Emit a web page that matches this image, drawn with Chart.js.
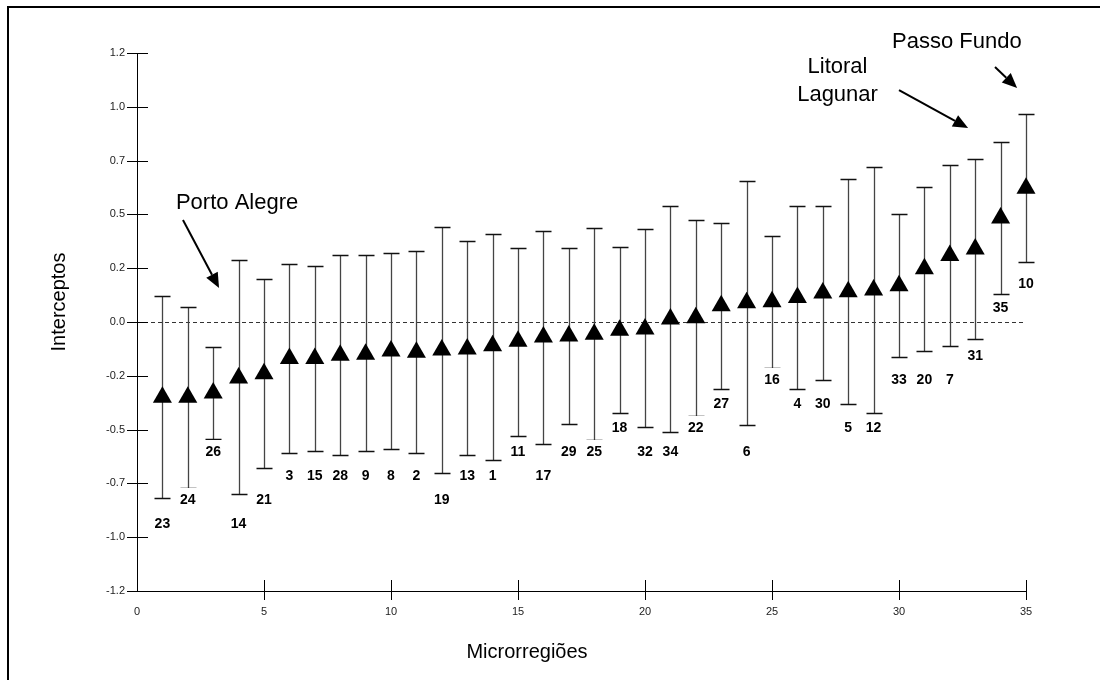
<!DOCTYPE html>
<html>
<head>
<meta charset="utf-8">
<title>Interceptos por microrregião</title>
<script src="https://cdn.jsdelivr.net/npm/chart.js@4.4.1/dist/chart.umd.min.js"></script>
<style>
    html, body { margin: 0; padding: 0; background: #fff; }
    #wrap { width: 1100px; height: 680px; }
</style>
</head>
<body>
<div id="wrap"><canvas id="chart" width="1100" height="680"></canvas></div>
<script>
(function () {
    "use strict";

    // rank of each microregion on the x axis
    var positions = [1, 2, 3, 4, 5, 6, 7, 8, 9, 10, 11, 12, 13, 14, 15, 16, 17, 18,
        19, 20, 21, 22, 23, 24, 25, 26, 27, 28, 29, 30, 31, 32, 33, 34, 35];
    // microregion number printed under each interval
    var regionIds = [23, 24, 26, 14, 21, 3, 15, 28, 9, 8, 2, 19, 13, 1, 11, 17, 29, 25,
        18, 32, 34, 22, 27, 6, 16, 4, 30, 5, 12, 33, 20, 7, 31, 35, 10];
    // estimated intercepts and their interval limits
    var intercepts = [-0.35, -0.35, -0.33, -0.26, -0.24, -0.17, -0.17, -0.155, -0.15, -0.135,
        -0.14, -0.13, -0.125, -0.11, -0.09, -0.07, -0.065, -0.057, -0.038, -0.033,
        0.014, 0.02, 0.076, 0.09, 0.094, 0.114, 0.135, 0.14, 0.149, 0.169,
        0.247, 0.309, 0.339, 0.483, 0.622];
    var lowerBounds = [-0.82, -0.77, -0.545, -0.80, -0.68, -0.61, -0.60, -0.62, -0.60, -0.59,
        -0.61, -0.70, -0.62, -0.64, -0.53, -0.565, -0.475, -0.55, -0.425, -0.49,
        -0.513, -0.435, -0.31, -0.48, -0.213, -0.313, -0.27, -0.383, -0.423, -0.164,
        -0.133, -0.113, -0.079, 0.129, 0.277];
    var upperBounds = [0.12, 0.07, -0.115, 0.29, 0.20, 0.27, 0.26, 0.31, 0.31, 0.32,
        0.33, 0.44, 0.375, 0.41, 0.345, 0.425, 0.345, 0.435, 0.35, 0.43,
        0.54, 0.475, 0.46, 0.655, 0.40, 0.54, 0.54, 0.663, 0.72, 0.50,
        0.627, 0.731, 0.757, 0.838, 0.968];
    var yTickLabels = ["-1.2", "-1.0", "-0.7", "-0.5", "-0.2", "0.0", "0.2", "0.5", "0.7", "1.0", "1.2"];

    var xTitle = "Microrregiões";
    var yTitle = "Interceptos";

    // call-outs, placed in data units
    var notes = [
        { lines: ["Porto Alegre"], x: 3.94, y: 0.553, from: [1.81, 0.474], to: [3.23, 0.158] },
        { lines: ["Litoral", "Lagunar"], x: 27.58, y: 1.12, from: [30.0, 1.078], to: [32.72, 0.901] },
        { lines: ["Passo Fundo"], x: 32.28, y: 1.301, from: [33.78, 1.185], to: [34.65, 1.087] }
    ];

    var FONT = "Arial, 'Liberation Sans', sans-serif";

    function arrow(ctx, x1, y1, x2, y2) {
        var ang = Math.atan2(y2 - y1, x2 - x1);
        var len = 15, half = 6.5;
        var bx = x2 - Math.cos(ang) * len, by = y2 - Math.sin(ang) * len;
        ctx.beginPath();
        ctx.moveTo(x1, y1);
        ctx.lineTo(bx, by);
        ctx.lineWidth = 2;
        ctx.stroke();
        ctx.beginPath();
        ctx.moveTo(x2, y2);
        ctx.lineTo(bx + Math.sin(ang) * half, by - Math.cos(ang) * half);
        ctx.lineTo(bx - Math.sin(ang) * half, by + Math.cos(ang) * half);
        ctx.closePath();
        ctx.fill();
    }

    var extras = {
        id: "extras",
        beforeDraw: function (chart) {
            var ctx = chart.ctx;
            ctx.save();
            ctx.fillStyle = "#fff";
            ctx.fillRect(0, 0, chart.width, chart.height);
            // outer frame (only top and left edges are visible)
            ctx.strokeStyle = "#000";
            ctx.lineWidth = 2;
            ctx.beginPath();
            ctx.moveTo(8, chart.height);
            ctx.lineTo(8, 7);
            ctx.lineTo(chart.width, 7);
            ctx.stroke();
            ctx.restore();
        },
        beforeDatasetsDraw: function (chart) {
            var ctx = chart.ctx, xs = chart.scales.x, ys = chart.scales.y;
            ctx.save();
            // zero reference line
            ctx.strokeStyle = "#333";
            ctx.lineWidth = 1;
            ctx.setLineDash([4, 3]);
            ctx.beginPath();
            ctx.moveTo(xs.left, Math.round(ys.getPixelForValue(0)) + 0.5);
            ctx.lineTo(xs.right, Math.round(ys.getPixelForValue(0)) + 0.5);
            ctx.stroke();
            ctx.setLineDash([]);

            // interval whiskers
            var zero = ys.getPixelForValue(0);
            for (var i = 0; i < positions.length; i++) {
                var px = Math.round(xs.getPixelForValue(positions[i])) + 0.5;
                var lo = Math.round(ys.getPixelForValue(lowerBounds[i])) + 0.5;
                var hi = Math.round(ys.getPixelForValue(upperBounds[i])) + 0.5;
                ctx.strokeStyle = "#444";
                ctx.lineWidth = 1.3;
                ctx.beginPath();
                ctx.moveTo(px, lo);
                ctx.lineTo(px, hi);
                ctx.stroke();
                ctx.strokeStyle = "#111";
                ctx.beginPath();
                ctx.moveTo(px - 8, lo);
                ctx.lineTo(px + 8, lo);
                ctx.moveTo(px - 8, hi);
                ctx.lineTo(px + 8, hi);
                ctx.stroke();
            }

            // region numbers, snapped to rows below each lower limit
            ctx.font = "bold 14px " + FONT;
            ctx.textAlign = "center";
            ctx.textBaseline = "middle";
            for (var j = 0; j < positions.length; j++) {
                var cx = xs.getPixelForValue(positions[j]);
                var cap = ys.getPixelForValue(lowerBounds[j]);
                var row = zero + 9;
                while (row < cap + 10) row += 24;
                while (row - 24 >= cap + 10) row -= 24;
                var txt = String(regionIds[j]);
                var w = ctx.measureText(txt).width;
                ctx.fillStyle = "#fff";
                ctx.fillRect(cx - w / 2 - 3, row - 11, w + 6, 22);
                ctx.fillStyle = "#000";
                ctx.fillText(txt, cx, row + 1);
            }
            ctx.restore();
        },
        afterDraw: function (chart) {
            var ctx = chart.ctx, xs = chart.scales.x, ys = chart.scales.y, area = chart.chartArea;
            ctx.save();
            ctx.strokeStyle = "#000";
            ctx.lineWidth = 1;
            // tick marks crossing the axes
            ctx.beginPath();
            ys.ticks.forEach(function (t) {
                var py = Math.round(ys.getPixelForValue(t.value)) + 0.5;
                ctx.moveTo(area.left - 10, py);
                ctx.lineTo(area.left + 11, py);
            });
            xs.ticks.forEach(function (t) {
                if (t.value <= 0) return;
                var px = Math.round(xs.getPixelForValue(t.value)) + 0.5;
                ctx.moveTo(px, area.bottom - 11);
                ctx.lineTo(px, area.bottom + 9);
            });
            ctx.stroke();

            // axis titles
            ctx.fillStyle = "#000";
            ctx.font = "20px " + FONT;
            ctx.textAlign = "center";
            ctx.textBaseline = "middle";
            ctx.fillText(xTitle, 527, 652);
            ctx.save();
            ctx.translate(59, (area.top + area.bottom) / 2 - 20);
            ctx.rotate(-Math.PI / 2);
            ctx.fillText(yTitle, 0, 0);
            ctx.restore();

            // call-outs
            ctx.font = "22px " + FONT;
            ctx.fillStyle = "#000";
            notes.forEach(function (n) {
                var tx = xs.getPixelForValue(n.x), ty = ys.getPixelForValue(n.y);
                var lh = 28, y0 = ty - (n.lines.length - 1) * lh / 2;
                n.lines.forEach(function (line, k) {
                    ctx.fillText(line, tx, y0 + k * lh);
                });
                arrow(ctx,
                    xs.getPixelForValue(n.from[0]), ys.getPixelForValue(n.from[1]),
                    xs.getPixelForValue(n.to[0]), ys.getPixelForValue(n.to[1]));
            });
            ctx.restore();
        }
    };

    var ctx = document.getElementById("chart").getContext("2d");
    var chart = new Chart(ctx, {
        type: "scatter",
        data: {
            datasets: [
                {
                    label: "Intercepto",
                    data: positions.map(function (p, i) {
                        return { x: p, y: intercepts[i] };
                    }),
                    pointStyle: "triangle",
                    pointRadius: 11,
                    pointHoverRadius: 11,
                    backgroundColor: "#000",
                    borderColor: "#000",
                    borderWidth: 0,
                    showLine: false,
                    clip: false
                }
            ]
        },
        options: {
            responsive: false,
            animation: false,
            events: [],
            layout: { padding: { left: 0, top: 53, right: 74, bottom: 0 } },
            plugins: {
                legend: { display: false },
                tooltip: { enabled: false }
            },
            scales: {
                x: {
                    type: "linear",
                    min: 0,
                    max: 35,
                    ticks: { stepSize: 5, padding: 14, color: "#222", font: { family: FONT, size: 11 } },
                    grid: { display: false, drawTicks: false },
                    border: { display: true, color: "#000", width: 1 },
                    afterFit: function (s) { s.height = 89; }
                },
                y: {
                    type: "linear",
                    min: -1.25,
                    max: 1.25,
                    ticks: {
                        stepSize: 0.25,
                        padding: 12,
                        color: "#222",
                        font: { family: FONT, size: 11 },
                        callback: function (value, index) { return yTickLabels[index]; }
                    },
                    grid: { display: false, drawTicks: false },
                    border: { display: true, color: "#000", width: 1 },
                    afterFit: function (s) { s.width = 137; }
                }
            }
        },
        plugins: [extras]
    });
})();
</script>
</body>
</html>
